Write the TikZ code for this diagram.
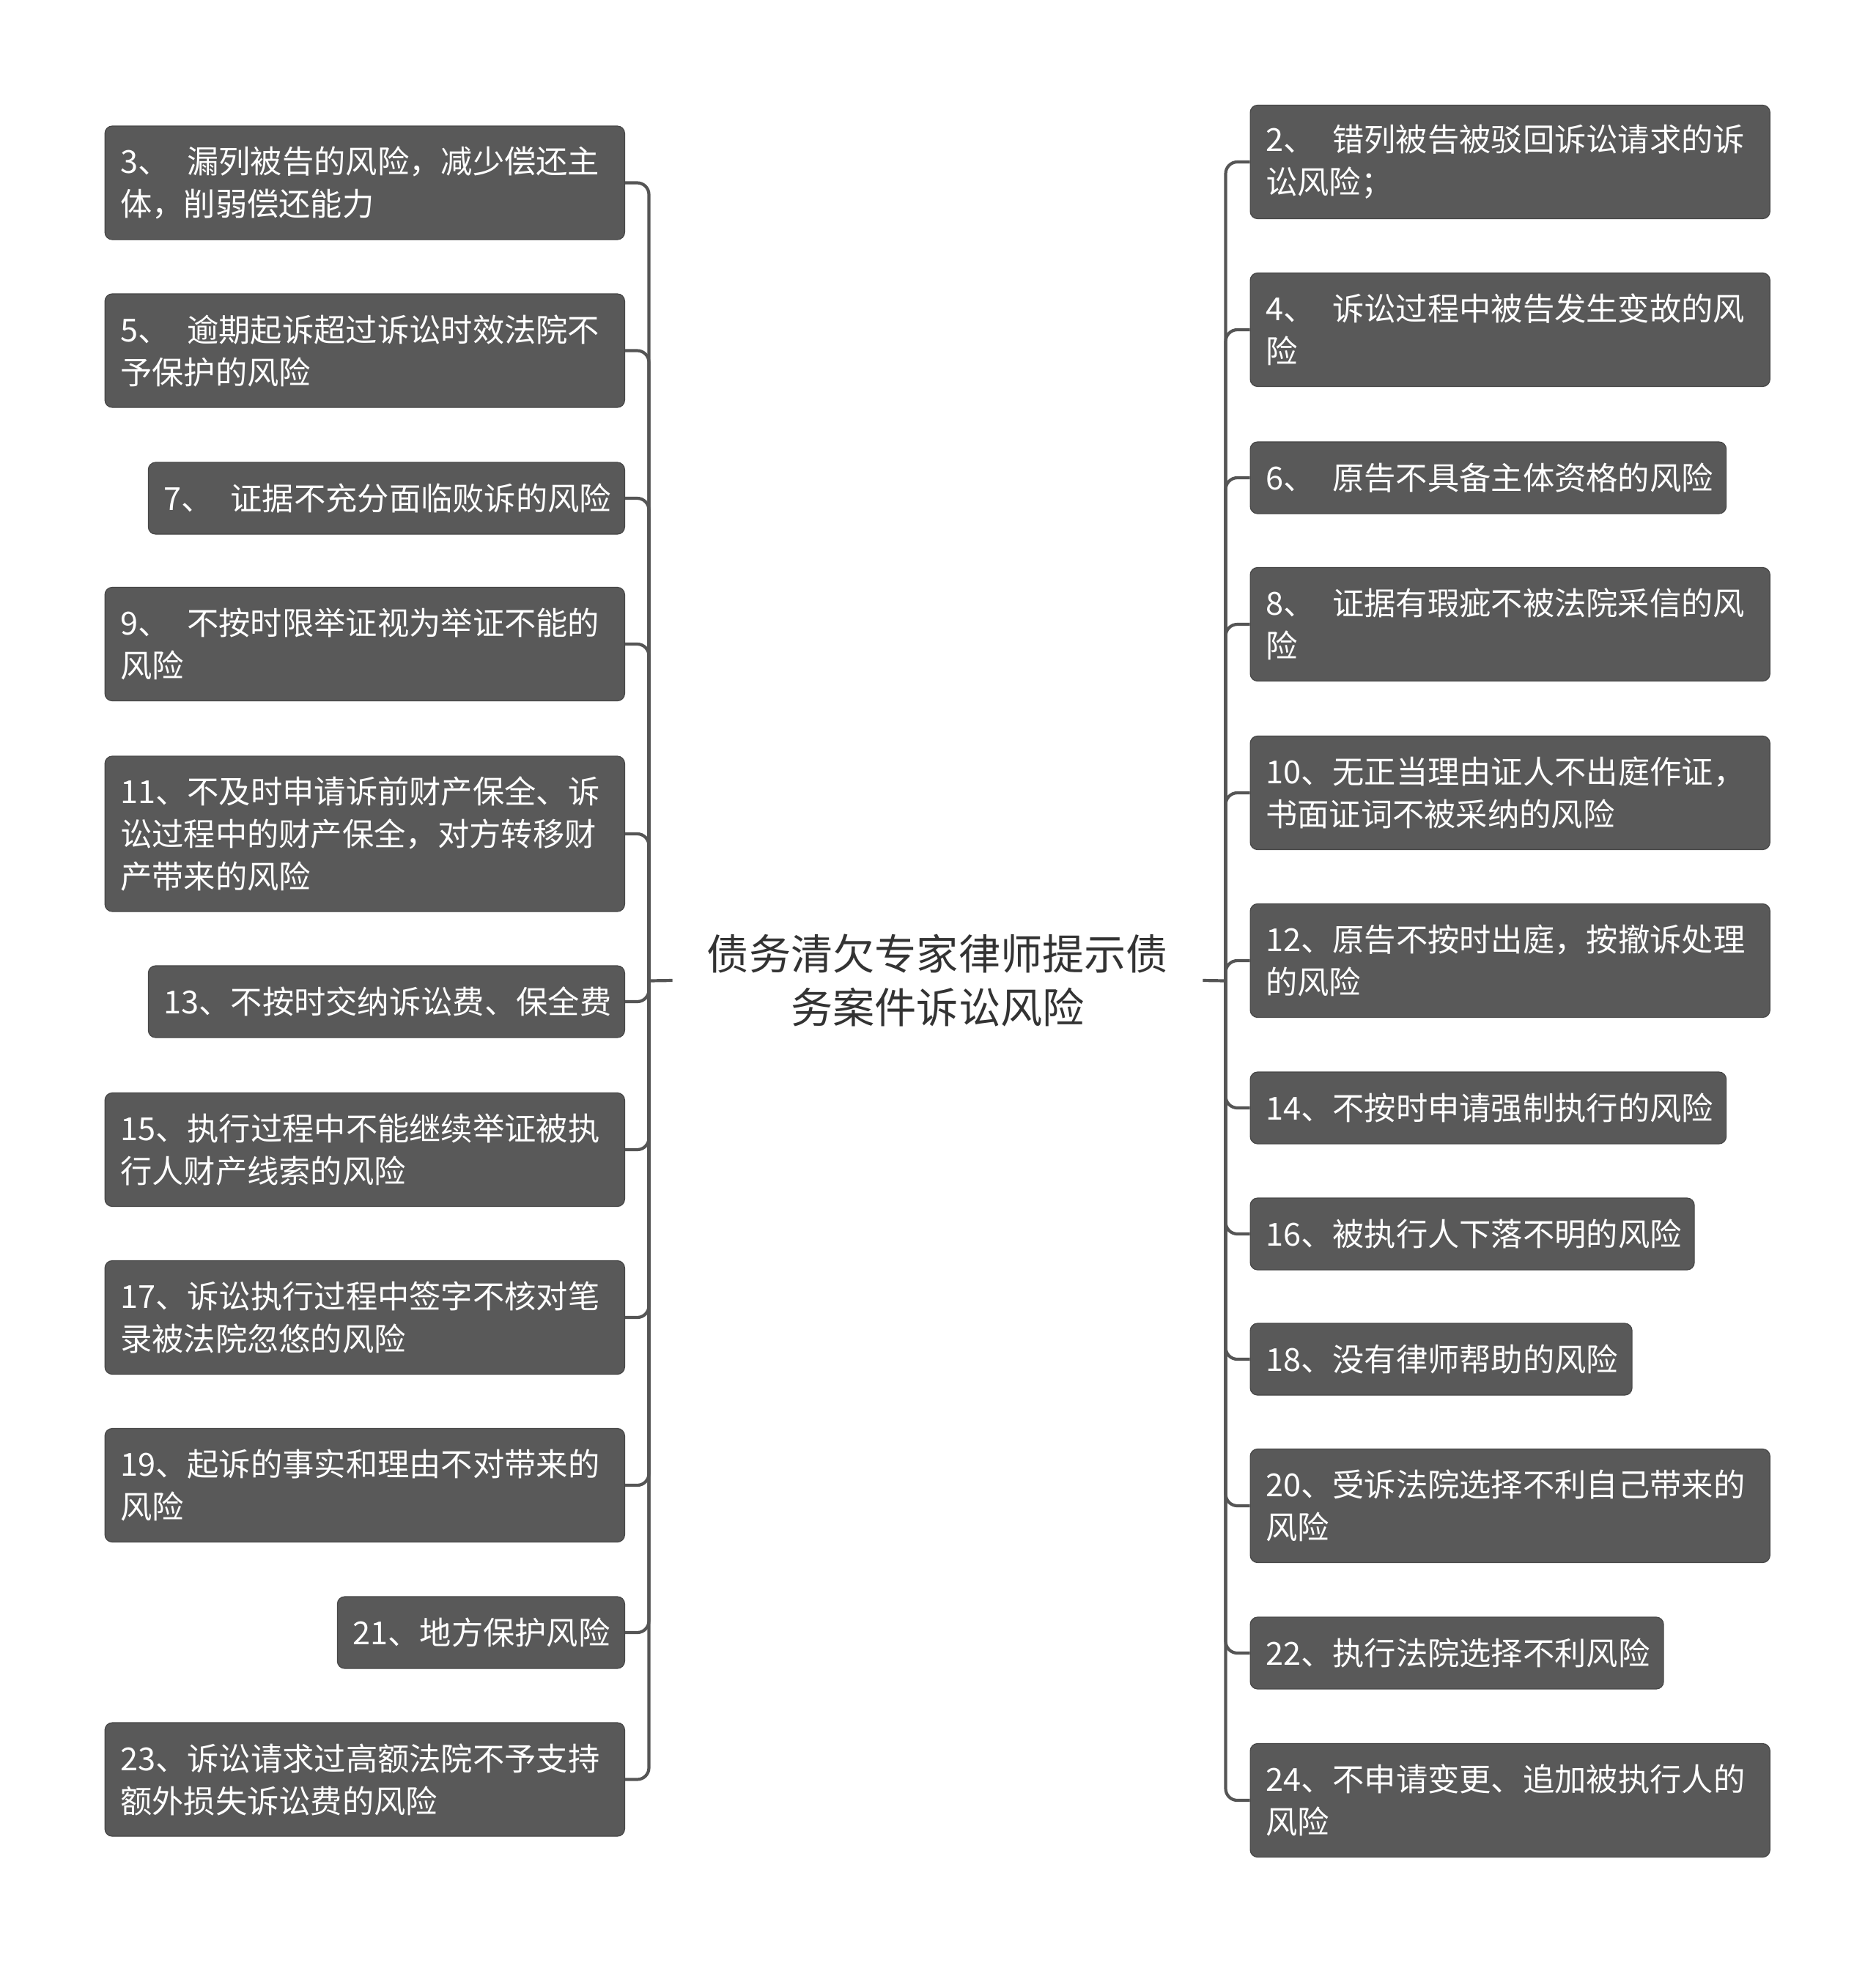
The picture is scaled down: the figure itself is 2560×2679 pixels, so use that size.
\documentclass[tikz,border=0pt]{standalone}
\usepackage{fontspec}
\setmainfont{Noto Sans CJK SC}
\definecolor{boxfill}{HTML}{595959}
\definecolor{boxline}{HTML}{474747}
\definecolor{connc}{HTML}{555555}
\definecolor{centertext}{HTML}{333333}
\tikzset{
  box/.style={fill=boxfill, draw=boxline, line width=0.6pt, rounded corners=5pt,
    text=white, inner xsep=10.5pt, inner ysep=0pt, align=left,
    font=\fontsize{21.65pt}{29pt}\selectfont},
  oneline/.style={minimum height=49pt},
  twoline/.style={minimum height=77.5pt},
  threeline/.style={minimum height=106pt},
  wfull/.style={text width=333.6pt},
  conn/.style={draw=connc, line width=2.1pt, rounded corners=8pt},
}
\newcommand{\gp}{\kern0.55em}
\begin{document}
\begin{tikzpicture}[x=0.5pt,y=-0.5pt]
\useasboundingbox (0,0) rectangle (2560,2679);
\fill[white] (0,0) rectangle (2560,2679);

\node[text=centertext, align=center, text width=361.5pt, inner sep=0pt,
  font=\fontsize{28.6pt}{36.7pt}\selectfont] (c) at (1279.5,1338) {债务清欠专家律师提示债\\务案件诉讼风险};

\coordinate (lj) at (885.5,1338.5);
\coordinate (rj) at (1672.5,1338.5);

% left nodes
\node[box, wfull, twoline, anchor=east] (L3) at (853,249.5) {3、\gp 漏列被告的风险，减少偿还主\\体，削弱偿还能力};
\node[box, wfull, twoline, anchor=east] (L5) at (853,478.5) {5、\gp 逾期起诉超过诉讼时效法院不\\予保护的风险};
\node[box, text width=304pt, oneline, anchor=east] (L7) at (853,680) {7、\gp 证据不充分面临败诉的风险};
\node[box, wfull, twoline, anchor=east] (L9) at (853,879) {9、\gp 不按时限举证视为举证不能的\\风险};
\node[box, wfull, threeline, anchor=east] (L11) at (853,1138) {11、不及时申请诉前财产保全、诉\\讼过程中的财产保全，对方转移财\\产带来的风险};
\node[box, text width=304pt, oneline, anchor=east] (L13) at (853,1367) {13、不按时交纳诉讼费、保全费};
\node[box, wfull, twoline, anchor=east] (L15) at (853,1569) {15、执行过程中不能继续举证被执\\行人财产线索的风险};
\node[box, wfull, twoline, anchor=east] (L17) at (853,1798) {17、诉讼执行过程中签字不核对笔\\录被法院忽悠的风险};
\node[box, wfull, twoline, anchor=east] (L19) at (853,2027) {19、起诉的事实和理由不对带来的\\风险};
\node[box, text width=175pt, oneline, anchor=east] (L21) at (853,2228) {21、地方保护风险};
\node[box, wfull, twoline, anchor=east] (L23) at (853,2428.5) {23、诉讼请求过高额法院不予支持\\额外损失诉讼费的风险};

% right nodes
\node[box, wfull, twoline, anchor=west] (R2) at (1705.5,221) {2、\gp 错列被告被驳回诉讼请求的诉\\讼风险；};
\node[box, wfull, twoline, anchor=west] (R4) at (1705.5,450) {4、\gp 诉讼过程中被告发生变故的风\\险};
\node[box, text width=303.75pt, oneline, anchor=west] (R6) at (1705.5,652) {6、\gp 原告不具备主体资格的风险};
\node[box, wfull, twoline, anchor=west] (R8) at (1705.5,852) {8、\gp 证据有瑕疵不被法院采信的风\\险};
\node[box, wfull, twoline, anchor=west] (R10) at (1705.5,1082) {10、无正当理由证人不出庭作证，\\书面证词不被采纳的风险};
\node[box, wfull, twoline, anchor=west] (R12) at (1705.5,1311) {12、原告不按时出庭，按撤诉处理\\的风险};
\node[box, text width=303.75pt, oneline, anchor=west] (R14) at (1705.5,1512) {14、不按时申请强制执行的风险};
\node[box, text width=282pt, oneline, anchor=west] (R16) at (1705.5,1684) {16、被执行人下落不明的风险};
\node[box, text width=239.5pt, oneline, anchor=west] (R18) at (1705.5,1855) {18、没有律师帮助的风险};
\node[box, wfull, twoline, anchor=west] (R20) at (1705.5,2055) {20、受诉法院选择不利自己带来的\\风险};
\node[box, text width=261pt, oneline, anchor=west] (R22) at (1705.5,2256) {22、执行法院选择不利风险};
\node[box, wfull, twoline, anchor=west] (R24) at (1705.5,2457) {24、不申请变更、追加被执行人的\\风险};

% connectors
\draw[conn] (c.west) -- (lj);
\draw[conn] (c.east) -- (rj);
\foreach \n in {L3,L5,L7,L9,L11,L13,L15,L17,L19,L21,L23}
  \draw[conn] (lj) |- (\n.east);
\foreach \n in {R2,R4,R6,R8,R10,R12,R14,R16,R18,R20,R22,R24}
  \draw[conn] (rj) |- (\n.west);
\end{tikzpicture}
\end{document}
